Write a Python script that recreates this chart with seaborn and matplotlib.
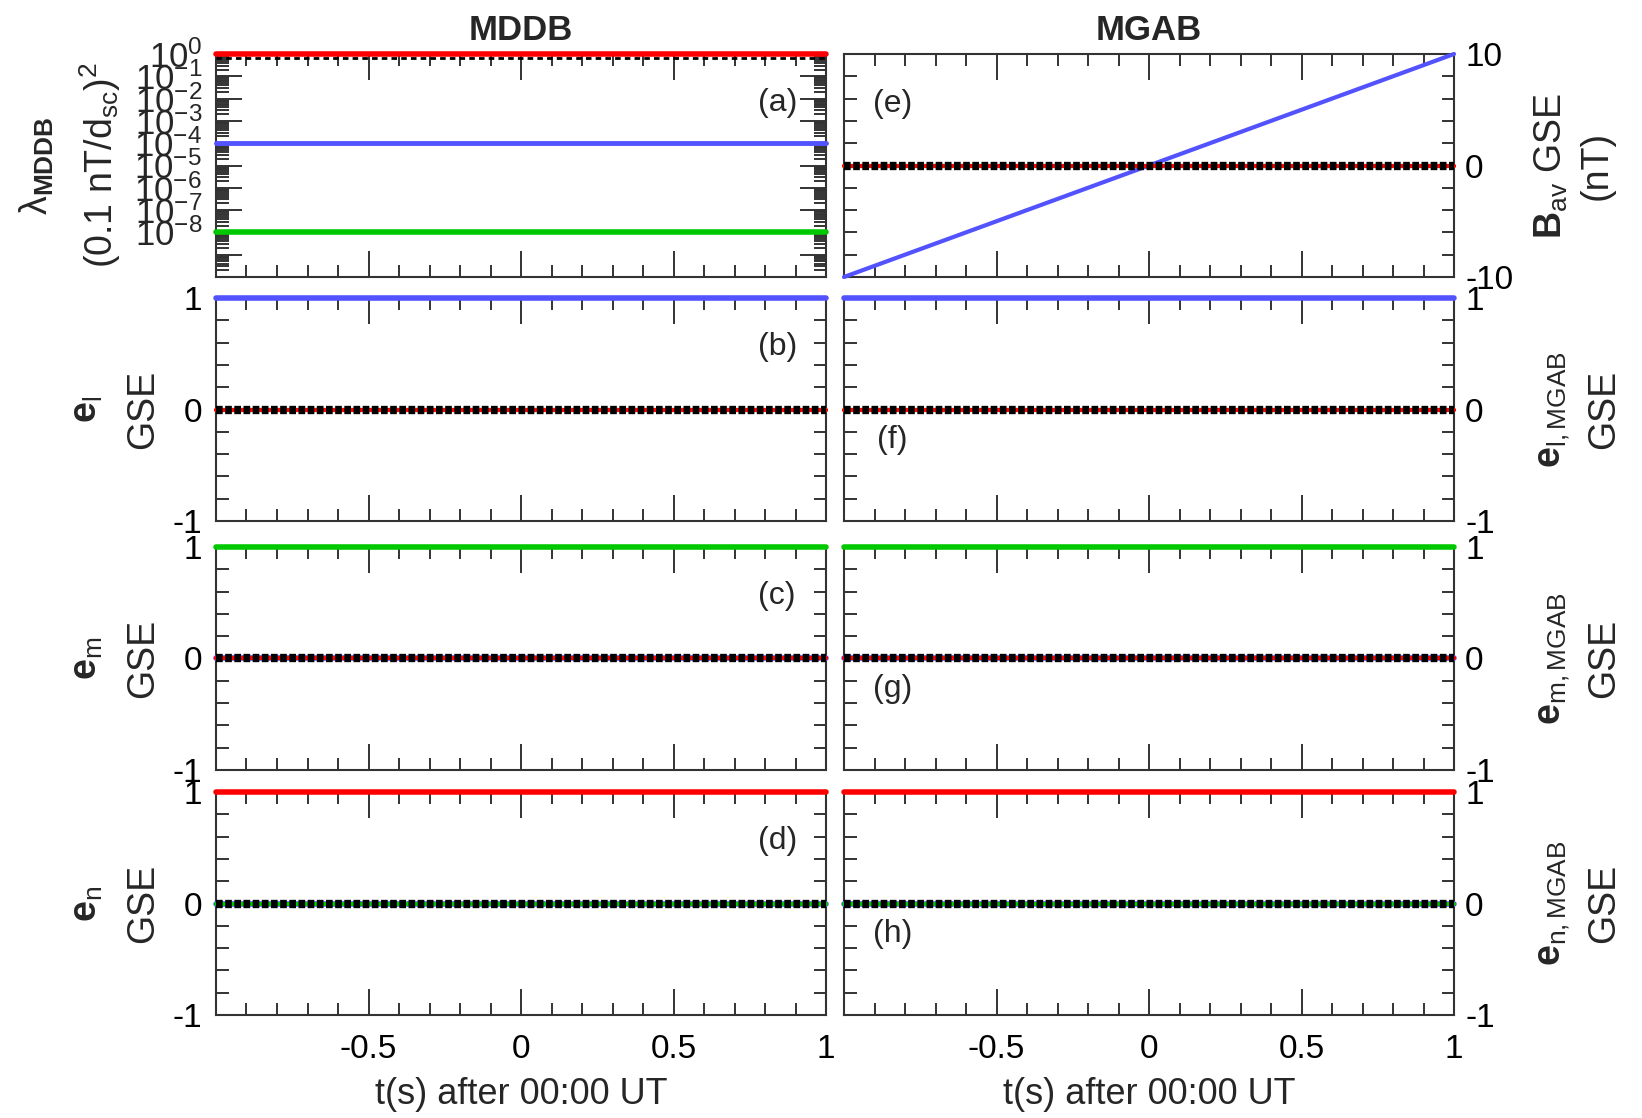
"""
MDDB / MGAB test case: eigenvalues, average field and eigenvectors
"""

import numpy as np
import matplotlib
matplotlib.use("Agg")
import matplotlib.pyplot as plt
import matplotlib.ticker as mticker
import seaborn as sns

# time axis, s after 00:00 UT (start and end of the interval)
t_s = [-1.0, 1.0]

# MDDB eigenvalues, (0.1 nT/d_sc)^2
lam_max = [1.0, 1.0]
lam_mid = [1e-4, 1e-4]
lam_min = [1e-8, 1e-8]
lam_dot = [0.66, 0.66]

# MGAB average field, GSE (nT)
bav_x = [-10.0, 10.0]
bav_y = [0.0, 0.0]
bav_z = [0.0, 0.0]

# eigenvectors, GSE components (x, y, z) -- same for MDDB and MGAB
el_x, el_y, el_z = [1.0, 1.0], [0.0, 0.0], [0.0, 0.0]
em_x, em_y, em_z = [0.0, 0.0], [1.0, 1.0], [0.0, 0.0]
en_x, en_y, en_z = [0.0, 0.0], [0.0, 0.0], [1.0, 1.0]
zero_ref = [0.0, 0.0]

x_ticks = [-1, -0.5, 0, 0.5, 1]
x_ticklabels = ["", "-0.5", "0", "0.5", "1"]

BLUE = "#5252ff"
GREEN = "#00c800"
RED = "#ff0000"
AXC = "#333333"

sns.set_theme(style="ticks")
plt.rcParams["font.family"] = ["Liberation Sans", "DejaVu Sans"]
plt.rcParams["mathtext.fontset"] = "custom"
plt.rcParams["mathtext.rm"] = "Liberation Sans"
plt.rcParams["mathtext.it"] = "Liberation Sans:italic"
plt.rcParams["mathtext.bf"] = "Liberation Sans:bold"
plt.rcParams["axes.unicode_minus"] = False
plt.rcParams["axes.edgecolor"] = AXC
plt.rcParams["axes.linewidth"] = 1.5

fig = plt.figure(figsize=(16.42, 11.18), dpi=100)

# panel rectangles (figure fraction)
lefts = [216 / 1642, 844 / 1642]
width = 610 / 1642
bottoms = [1 - 277 / 1118, 1 - 521 / 1118, 1 - 770 / 1118, 1 - 1015 / 1118]
height = 223 / 1118

axs = [[fig.add_axes([l, b, width, height]) for l in lefts] for b in bottoms]


def style_x(ax, bottom_row):
	ax.set_xlim(-1, 1)
	ax.xaxis.set_major_locator(mticker.FixedLocator(x_ticks))
	ax.xaxis.set_minor_locator(mticker.MultipleLocator(0.1))
	ax.tick_params(axis="x", which="major", direction="in", length=18.5,
				   width=1.4, color=AXC, top=True, bottom=True)
	ax.tick_params(axis="x", which="minor", direction="in", length=8.5,
				   width=1.4, color=AXC, top=True, bottom=True)
	if bottom_row:
		ax.set_xticklabels(x_ticklabels)
		ax.tick_params(axis="x", labelsize=24, pad=14, labelcolor="black")
		ax.set_xlabel("t(s) after 00:00 UT", fontsize=26, labelpad=8)
	else:
		ax.set_xticklabels([])
	ax.set_ylabel("")


def style_y_lin(ax, lim, step, right):
	ax.set_ylim(-lim, lim)
	ax.yaxis.set_major_locator(mticker.FixedLocator([-lim, 0, lim]))
	ax.yaxis.set_minor_locator(mticker.MultipleLocator(step))
	ax.tick_params(axis="y", which="both", direction="in", length=9,
				   width=1.4, color=AXC, left=True, right=True,
				   labelsize=24, labelcolor="black")
	if right:
		ax.tick_params(axis="y", labelleft=False, labelright=True, pad=8)
		ax.yaxis.set_label_position("right")
	else:
		ax.tick_params(axis="y", pad=10)


def hline(ax, y, color, lw, dash=None):
	sns.lineplot(x=t_s, y=y, ax=ax, color=color, clip_on=False,
				 zorder=4 if dash else 3, errorbar=None)
	line = ax.lines[-1]
	line.set_linewidth(lw)
	if dash:
		line.set_linestyle((0, dash))
		line.set_dash_capstyle("butt")


def vec_panel(ax, cx, cy, cz):
	hline(ax, cx, BLUE, 4)
	hline(ax, cy, GREEN, 4 if cy[0] != 0 else 3)
	hline(ax, cz, RED, 4 if cz[0] != 0 else 3)
	hline(ax, zero_ref, "black", 6, dash=(0.8, 0.3))


# (a) MDDB eigenvalues
ax = axs[0][0]
hline(ax, lam_dot, "black", 2, dash=(2, 1.5))
hline(ax, lam_max, RED, 4)
hline(ax, lam_mid, BLUE, 3.5)
hline(ax, lam_min, GREEN, 4)
ax.set_yscale("log")
ax.set_ylim(1e-10, 1)
ax.yaxis.set_major_locator(mticker.FixedLocator([10.0 ** k for k in range(-10, 1)]))
ax.yaxis.set_minor_locator(mticker.LogLocator(base=10, subs=np.arange(2, 10), numticks=30))
ax.yaxis.set_major_formatter(mticker.FuncFormatter(
	lambda v, p: r"$10^{%d}$" % round(np.log10(v)) if round(np.log10(v)) >= -8 else ""))
ax.yaxis.set_minor_formatter(mticker.NullFormatter())
ax.tick_params(axis="y", which="major", direction="in", length=19, width=1.4,
			   color=AXC, left=True, right=True, labelsize=25, pad=10)
ax.tick_params(axis="y", which="minor", direction="in", length=9, width=1.4,
			   color=AXC, left=True, right=True)
style_x(ax, False)
ax.set_ylabel("λ$_{\\mathbf{MDDB}}$\n(0.1 nT/d$_{\\mathrm{sc}}$)$^2$", fontsize=27,
			  labelpad=8, linespacing=1.6)

# (e) MGAB average field
ax = axs[0][1]
hline(ax, bav_x, BLUE, 3)
hline(ax, bav_y, GREEN, 3)
hline(ax, bav_z, RED, 3)
hline(ax, zero_ref, "black", 6, dash=(0.8, 0.3))
style_x(ax, False)
style_y_lin(ax, 10, 2, True)
ax.set_ylabel(r"$\mathbf{B}_{\mathrm{av}}$ GSE" + "\n(nT)", fontsize=27,
			  labelpad=14, linespacing=1.3)

vec_data = [(el_x, el_y, el_z, "l"), (em_x, em_y, em_z, "m"),
			(en_x, en_y, en_z, "n")]
for i, (cx, cy, cz, sub) in enumerate(vec_data):
	for j in range(2):
		ax = axs[i + 1][j]
		vec_panel(ax, cx, cy, cz)
		style_x(ax, i == 2)
		style_y_lin(ax, 1, 0.2, j == 1)
		if j == 0:
			ax.set_ylabel(r"$\mathbf{e}_{\mathrm{%s}}$" % sub + "\nGSE",
						  fontsize=27, labelpad=8.5, linespacing=1.7)
		else:
			ax.set_ylabel(r"$\mathbf{e}_{\mathrm{%s,MGAB}}$" % sub + "\nGSE",
						  fontsize=27, labelpad=30, linespacing=1.5)

for row in axs:
	for ax in row:
		for s in ax.spines.values():
			s.set_zorder(2.5)
		if ax.get_legend():
			ax.get_legend().remove()

axs[0][0].set_title("MDDB", fontsize=25, fontweight="bold", pad=10)
axs[0][1].set_title("MGAB", fontsize=25, fontweight="bold", pad=10)

letters = [["(a)", "(e)"], ["(b)", "(f)"], ["(c)", "(g)"], ["(d)", "(h)"]]
for i in range(4):
	axs[i][0].text(0.92, 0.78, letters[i][0], transform=axs[i][0].transAxes,
				   fontsize=23, ha="center", va="center")
	ye = 0.777 if i == 0 else 0.365
	axs[i][1].text(0.079, ye, letters[i][1], transform=axs[i][1].transAxes,
				   fontsize=23, ha="center", va="center")

fig.savefig("out.png", dpi=100)
